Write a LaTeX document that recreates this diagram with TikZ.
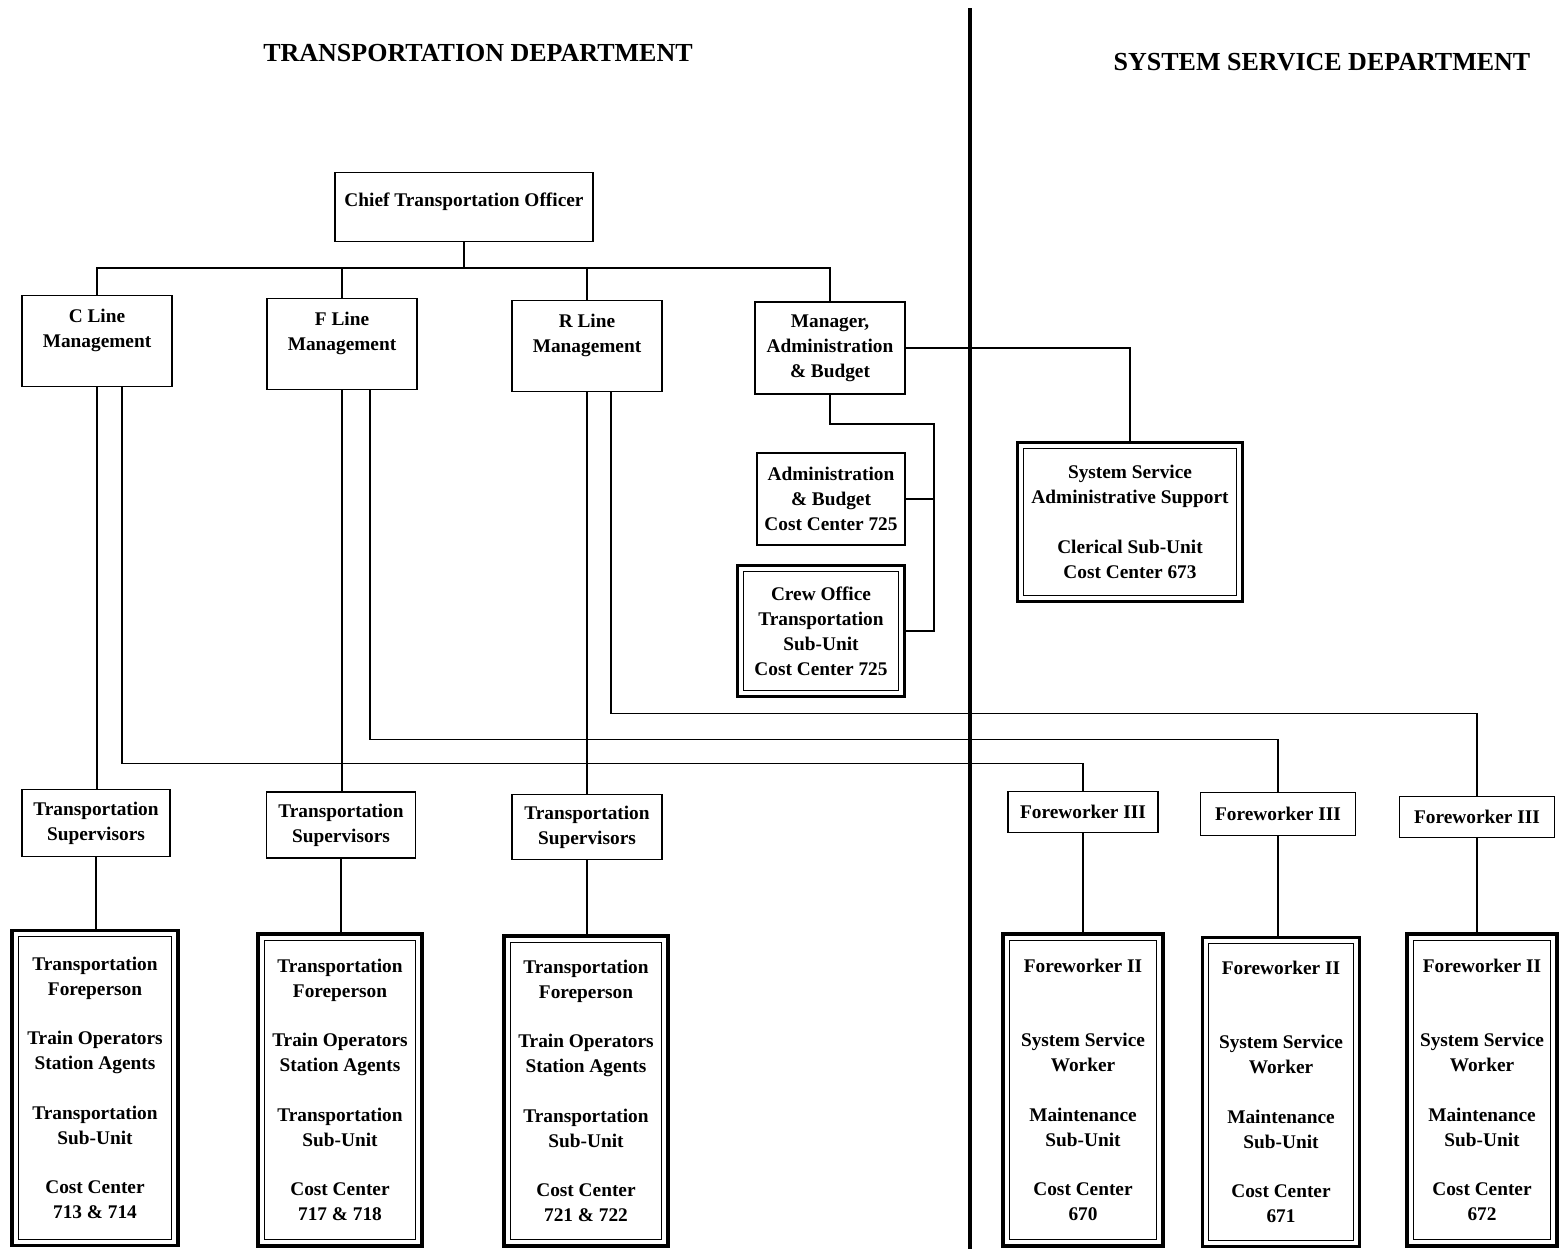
\documentclass[tikz,border=0pt]{standalone}
\usepackage{fontspec}
\setmainfont{Liberation Serif}
\newcommand{\emptyrow}{\\[14pt]}
\tikzset{
	unit/.style={draw,line width=1.1pt,align=center,inner sep=2pt,
		font=\fontsize{11}{14.2}\selectfont\bfseries},
	subunit/.style={unit,line width=2.2pt,
		path picture={\draw[line width=0.7pt]
			([shift={(3.6pt,3.6pt)}]path picture bounding box.south west) rectangle
			([shift={(-3.6pt,-3.6pt)}]path picture bounding box.north east);}},
	dept/.style={font=\fontsize{14.8}{17}\selectfont\bfseries},
	link/.style={line width=1.1pt}
}
\begin{document}
\begin{tikzpicture}[x=0.02cm,y=-0.02cm]
	\useasboundingbox (0,0) rectangle (1559,1249);
	% headings and divider
	\node[dept] (tdept) at (478,53) {TRANSPORTATION DEPARTMENT};
	\node[dept] (sdept) at (1322,62) {SYSTEM SERVICE DEPARTMENT};
	\draw[line width=2.4pt] (970,8) -- (970,1249);
	% top levels
	\node[unit,minimum width=5.16cm,minimum height=1.38cm] (chief) at (464,207) {Chief Transportation Officer\\[-6pt]~};
	\node[unit,minimum width=3cm,minimum height=1.82cm] (cline) at (97,341) {C Line\\Management\\~};
	\node[unit,minimum width=3cm,minimum height=1.82cm] (fline) at (342,344) {F Line\\Management\\~};
	\node[unit,minimum width=3cm,minimum height=1.82cm] (rline) at (587,346) {R Line\\Management\\~};
	\node[unit,minimum width=3cm,minimum height=1.84cm] (mgr) at (830,348) {Manager,\\Administration\\\& Budget};
	\node[unit,minimum width=2.96cm,minimum height=1.84cm] (admin) at (831,499) {Administration\\\& Budget\\Cost Center 725};
	\node[subunit,minimum width=3.34cm,minimum height=2.62cm] (crew) at (821,631) {Crew Office\\Transportation\\Sub-Unit\\Cost Center 725};
	\node[subunit,minimum width=4.5cm,minimum height=3.18cm] (ssas) at (1130,522) {System Service\\Administrative Support\emptyrow Clerical Sub-Unit\\Cost Center 673};
	% supervisors
	\node[unit,minimum width=2.96cm,minimum height=1.34cm] (tsc) at (96,823) {Transportation\\Supervisors};
	\node[unit,minimum width=2.98cm,minimum height=1.32cm] (tsf) at (341,825) {Transportation\\Supervisors};
	\node[unit,minimum width=3cm,minimum height=1.3cm] (tsr) at (587,827) {Transportation\\Supervisors};
	\node[unit,minimum width=3cm,minimum height=0.82cm] (fwc) at (1083,812) {Foreworker III};
	\node[unit,minimum width=3.1cm,minimum height=0.86cm] (fwf) at (1278,814) {Foreworker III};
	\node[unit,minimum width=3.1cm,minimum height=0.82cm] (fwr) at (1477,817) {Foreworker III};
	% sub-units
	\node[subunit,minimum width=3.32cm,minimum height=6.3cm] (subc) at (95,1088) {Transportation\\Foreperson\emptyrow Train Operators\\Station Agents\emptyrow Transportation\\Sub-Unit\emptyrow Cost Center\\713 \& 714};
	\node[subunit,minimum width=3.28cm,minimum height=6.24cm] (subf) at (340,1090) {Transportation\\Foreperson\emptyrow Train Operators\\Station Agents\emptyrow Transportation\\Sub-Unit\emptyrow Cost Center\\717 \& 718};
	\node[subunit,minimum width=3.28cm,minimum height=6.2cm] (subr) at (586,1091) {Transportation\\Foreperson\emptyrow Train Operators\\Station Agents\emptyrow Transportation\\Sub-Unit\emptyrow Cost Center\\721 \& 722};
	\node[subunit,minimum width=3.2cm,minimum height=6.24cm] (mntc) at (1083,1090) {Foreworker II\\[28pt]System Service\\Worker\emptyrow Maintenance\\Sub-Unit\emptyrow Cost Center\\670};
	\node[subunit,minimum width=3.14cm,minimum height=6.18cm] (mntf) at (1281,1092) {Foreworker II\\[28pt]System Service\\Worker\emptyrow Maintenance\\Sub-Unit\emptyrow Cost Center\\671};
	\node[subunit,minimum width=3cm,minimum height=6.24cm] (mntr) at (1482,1090) {Foreworker II\\[28pt]System Service\\Worker\emptyrow Maintenance\\Sub-Unit\emptyrow Cost Center\\672};
	% connectors
	\coordinate (bus) at (464,268);
	\coordinate (ab) at (934,424);
	\draw[link] (chief.south) -- (bus);
	\draw[link] (cline.north) |- (bus) -| (mgr.north);
	\draw[link] (fline.north) -- (fline.north |- bus);
	\draw[link] (rline.north) -- (rline.north |- bus);
	\draw[link] (mgr.east) -| (ssas.north);
	\draw[link] (mgr.south) |- (ab) |- (crew.east);
	\draw[link] (admin.east) -- (admin.east -| ab);
	\draw[link] (cline.south) -- (cline.south |- tsc.north);
	\draw[link] (fline.south) -- (fline.south |- tsf.north);
	\draw[link] (rline.south) -- (rline.south |- tsr.north);
	\draw[link] ([xshift=0.5cm]cline.south) -- ++(0,376) -| (fwc.north);
	\draw[link] ([xshift=0.56cm]fline.south) -- ++(0,349) -| (fwf.north);
	\draw[link] ([xshift=0.48cm]rline.south) -- ++(0,321) -| (fwr.north);
	\draw[link] (tsc.south) -- (tsc.south |- subc.north);
	\draw[link] (tsf.south) -- (tsf.south |- subf.north);
	\draw[link] (tsr.south) -- (tsr.south |- subr.north);
	\draw[link] (fwc.south) -- (fwc.south |- mntc.north);
	\draw[link] (fwf.south) -- (fwf.south |- mntf.north);
	\draw[link] (fwr.south) -- (fwr.south |- mntr.north);
\end{tikzpicture}
\end{document}
